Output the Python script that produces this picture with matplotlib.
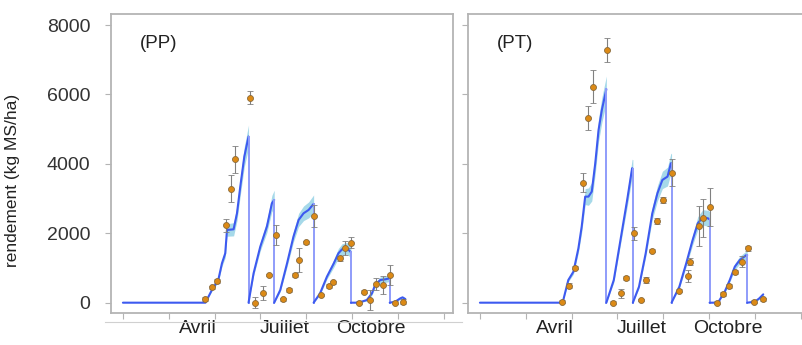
import numpy as np
import matplotlib.pyplot as plt
from matplotlib.lines import Line2D

plt.rcParams['font.family'] = ['Liberation Sans', 'DejaVu Sans']

# simulated yield (day of year, kg MS/ha) and half-width of the uncertainty band
pp_day = [0, 90, 97, 104, 108, 111.6, 113.5, 120.7, 124.4, 128, 132.4, 137, 137,
          142.5, 149.8, 157, 162.5, 165, 165,
          171.6, 179, 186, 191.6, 197, 202.5, 207, 208, 208,
          215, 222.5, 230, 235, 239, 244.4, 248, 248.7, 248.7,
          257, 266, 271.6, 275, 280.7, 286, 291, 291,
          297, 302.5, 305, 308]
pp_val = [0, 0, 365, 653, 1134, 1422, 2095, 2114, 2575, 3344, 4209, 4786, 0,
          846, 1614, 2191, 2864, 2960, 0,
          365, 1134, 1903, 2383, 2575, 2672, 2816, 2845, 0,
          269, 750, 1134, 1422, 1538, 1566, 1470, 1460, 0,
          0, 77, 269, 509, 653, 673, 701, 0,
          29, 125, 154, 106]
pp_band = [0, 0, 30, 60, 90, 120, 180, 190, 210, 250, 290, 330, 0,
           70, 120, 170, 230, 280, 0,
           50, 100, 150, 190, 210, 230, 250, 260, 0,
           40, 70, 110, 140, 160, 170, 160, 150, 0,
           0, 30, 50, 70, 90, 90, 90, 0,
           15, 25, 25, 25]

pp_obs_day = [90, 97, 103, 112.4, 118, 122.5, 139, 144.4, 152.7, 159, 167,
              175, 181.5, 188, 192.4, 199.6, 208, 216, 224.4, 228.7, 236.4,
              241.8, 248.7, 257, 262.5, 270, 276, 283.6, 291, 297, 306]
pp_obs_val = [106, 442, 625, 2230, 3287, 4132, 5910, 0, 269, 798, 1950,
              96, 365, 798, 1230, 1740, 2500, 221, 480, 586, 1278,
              1586, 1730, 0, 317, 77, 538, 509, 798, 0, 29]
pp_obs_err = [50, 40, 60, 180, 385, 385, 200, 150, 200, 40, 290,
              40, 60, 60, 340, 40, 310, 40, 70, 40, 80,
              200, 150, 50, 40, 290, 170, 270, 290, 50, 80]

pt_day = [0, 90.2, 96.4, 102, 107.4, 111, 114.8, 118.4, 122, 125.8, 129.4, 133, 137.9, 137.9,
          146, 153.3, 160.6, 166, 166.8, 166.8,
          173.5, 180.8, 188, 193.6, 199, 204.6, 208.3, 209, 209,
          217.5, 225, 232, 237.6, 243, 248.6, 250.5, 250.5,
          259.6, 267, 272.5, 278, 283.5, 290.8, 291.5, 291.5,
          300, 304.7, 309]
pt_val = [0, 0, 653, 894, 1566, 2191, 3056, 3056, 3200, 4017, 4978, 5555, 6150, 0,
          653, 1807, 2960, 3873, 3850, 0,
          461, 1422, 2575, 3152, 3536, 3633, 4017, 4000, 0,
          461, 1134, 1807, 2287, 2460, 2431, 2400, 0,
          0, 317, 653, 1038, 1230, 1374, 1370, 0,
          29, 125, 240]
pt_band = [0, 0, 50, 70, 120, 170, 230, 250, 270, 300, 330, 360, 380, 0,
           70, 130, 200, 260, 270, 0,
           50, 110, 180, 220, 250, 270, 290, 290, 0,
           50, 90, 140, 190, 220, 230, 230, 0,
           0, 40, 60, 90, 110, 120, 120, 0,
           15, 25, 35]

pt_obs_day = [90, 97.5, 103.8, 112.2, 117.7, 122.8, 138.6, 145, 154, 159.5, 167.6,
              176, 181.5, 187.4, 193.6, 199.9, 209.4, 217.5, 226.6, 229.6, 238.4,
              243, 250.5, 258.5, 265, 271.7, 278, 285.3, 292.6, 299, 309]
pt_obs_val = [29, 490, 1009, 3460, 5314, 6227, 7284, 0, 269, 702, 1999,
              77, 653, 1500, 2354, 2960, 3748, 346, 769, 1182, 2210,
              2431, 2768, 0, 250, 490, 894, 1182, 1566, 29, 96]
pt_obs_err = [40, 80, 40, 270, 340, 480, 350, 50, 130, 60, 190,
              40, 100, 40, 100, 80, 385, 40, 170, 100, 577,
              550, 550, 50, 50, 60, 60, 150, 80, 40, 40]

month_days = [82, 176, 270]
month_labels = ['Avril', 'Juillet', 'Octobre']
y_ticks = [0, 2000, 4000, 6000, 8000]

line_col = '#3d5af0'
drop_col = '#8f9cfa'
band_col = '#a6d9e9'
obs_col = '#dc8a16'
frame_col = '#b4b4b4'


def draw_panel(ax, day, val, band, obs_day, obs_val, obs_err, title, show_labels):
    day = np.array(day)
    val = np.array(val)
    band = np.array(band)
    ax.fill_between(day, val - band, val + band, color=band_col, lw=0)
    # split the curve at the cuts (repeated day) so each regrowth is one line
    cuts = np.where(np.diff(day) == 0)[0]
    st = 0
    for c in list(cuts) + [len(day) - 1]:
        ax.plot(day[st:c + 1], val[st:c + 1], color=line_col, lw=1.5, solid_capstyle='round')
        if c < len(day) - 1:
            ax.plot(day[c:c + 2], val[c:c + 2], color=drop_col, lw=1.4)
        st = c + 1
    ax.errorbar(obs_day, obs_val, yerr=obs_err, fmt='o', ms=4.3, mfc=obs_col,
                mec='#8a6a3a', mew=0.6, ecolor='#808080', elinewidth=0.8,
                capsize=2.3, capthick=0.8, zorder=5)
    ax.text(0.085, 0.885, title, transform=ax.transAxes, fontsize=13.5, color='#222222')

    ax.set_xlim(-13, 360)
    ax.set_ylim(-297, 8317)
    ax.set_xticks(np.arange(0, 351, 50))
    ax.set_xticklabels([])
    ax.set_xticks(month_days, minor=True)
    ax.set_xticklabels(month_labels, minor=True, fontsize=14, color='#222222')
    ax.tick_params(axis='x', which='minor', length=0, pad=5)
    ax.tick_params(axis='x', which='major', length=4, width=0.8, color=frame_col)
    ax.set_yticks(y_ticks)
    ax.tick_params(axis='y', length=4, width=0.8, color=frame_col, pad=11,
                   labelsize=14, labelcolor='#333333')
    if not show_labels:
        ax.set_yticklabels([])
    for sp in ax.spines.values():
        sp.set_color(frame_col)
        sp.set_linewidth(1.3)


fig = plt.figure(figsize=(8.03, 3.45), dpi=100)
ax1 = fig.add_axes([111 / 803, 32 / 345, 342 / 803, 299 / 345])
ax2 = fig.add_axes([468 / 803, 32 / 345, 342 / 803, 299 / 345])

draw_panel(ax1, pp_day, pp_val, pp_band, pp_obs_day, pp_obs_val, pp_obs_err, '(PP)', True)
draw_panel(ax2, pt_day, pt_val, pt_band, pt_obs_day, pt_obs_val, pt_obs_err, '(PT)', False)

ax1.set_ylabel('rendement (kg MS/ha)', fontsize=12.5, color='#222222')
ax1.yaxis.set_label_coords(-0.266, 0.445)

# thin rule under the left panel
fig.add_artist(Line2D([105 / 803, 462 / 803], [23 / 345, 23 / 345],
                      color='#d0d0d0', lw=0.8))

fig.savefig('out.png', dpi=100)
